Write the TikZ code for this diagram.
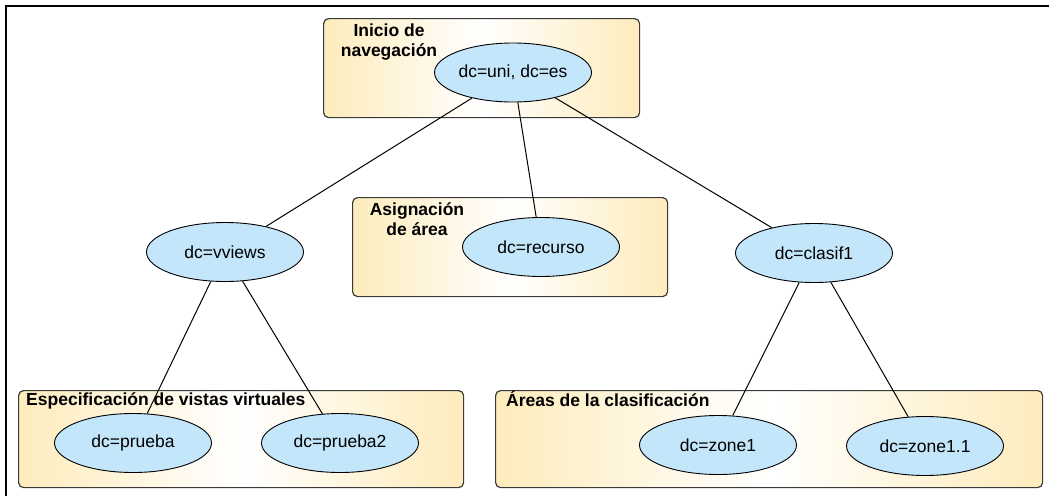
\documentclass[tikz,border=0pt]{standalone}
\usepackage{fontspec}
\setmainfont{Liberation Sans}
\usetikzlibrary{shapes.geometric}
\definecolor{boxy}{HTML}{FDD878}
\definecolor{nodeblue}{HTML}{C4E6FA}
\definecolor{boxline}{HTML}{3A3A3A}
\pgfdeclarehorizontalshading{boxshade}{100bp}{color(0bp)=(boxy); color(50bp)=(white); color(100bp)=(boxy)}
\begin{document}
\begin{tikzpicture}[x=1pt,y=-1pt,
  groupbox/.style={draw=boxline, line width=1.2pt, rounded corners=5pt, shading=boxshade, anchor=north west, inner sep=0pt},
  entry/.style={ellipse, draw=black, line width=0.9pt, fill=nodeblue, minimum width=157pt, minimum height=59pt, inner sep=0pt, font=\fontsize{17.5}{21}\selectfont},
  grouptitle/.style={font=\fontsize{17.5}{20}\selectfont\bfseries, inner sep=0pt, align=center},
  link/.style={line width=1pt},
  frame/.style={line width=1.3pt}]
\useasboundingbox (0,0) rectangle (1049,496);
% frame
\coordinate (fA) at (1049,6);
\coordinate (fB) at (6,6);
\coordinate (fC) at (6,496);
\draw[frame] (fA) -- (fB) -- (fC);
% group boxes
\node[groupbox, minimum width=316pt, minimum height=99pt] (bstart) at (323,18) {};
\node[groupbox, minimum width=315pt, minimum height=99pt] (barea) at (352,197) {};
\node[groupbox, minimum width=445pt, minimum height=97pt] (bvirt) at (18,390) {};
\node[groupbox, minimum width=547pt, minimum height=97pt] (bclas) at (495,390) {};
% titles
\node[grouptitle, anchor=base] (tstart) at (389,56) {Inicio de\\navegación};
\node[grouptitle, anchor=base] (tarea) at (417,235) {Asignación\\de área};
\node[grouptitle, anchor=base west] (tvirt) at (26,405) {Especificación de vistas virtuales};
\node[grouptitle, anchor=base west] (tclas) at (506,406) {Áreas de la clasificación};
% entries
\node[entry] (uni) at (513,72.5) {dc=uni, dc=es};
\node[entry] (recurso) at (541,247) {dc=recurso};
\node[entry] (vviews) at (225,252) {dc=vviews};
\node[entry] (clasif) at (814,253) {dc=clasif1};
\node[entry] (prueba) at (133,443) {dc=prueba};
\node[entry] (prueba2) at (340,443) {dc=prueba2};
\node[entry] (zone1) at (718,445) {dc=zone1};
\node[entry] (zone11) at (925,446) {dc=zone1.1};
% links
\draw[link] (uni) -- (vviews);
\draw[link] (uni) -- (recurso);
\draw[link] (uni) -- (clasif);
\draw[link] (vviews) -- (prueba);
\draw[link] (vviews) -- (prueba2);
\draw[link] (clasif) -- (zone1);
\draw[link] (clasif) -- (zone11);
\end{tikzpicture}
\end{document}
